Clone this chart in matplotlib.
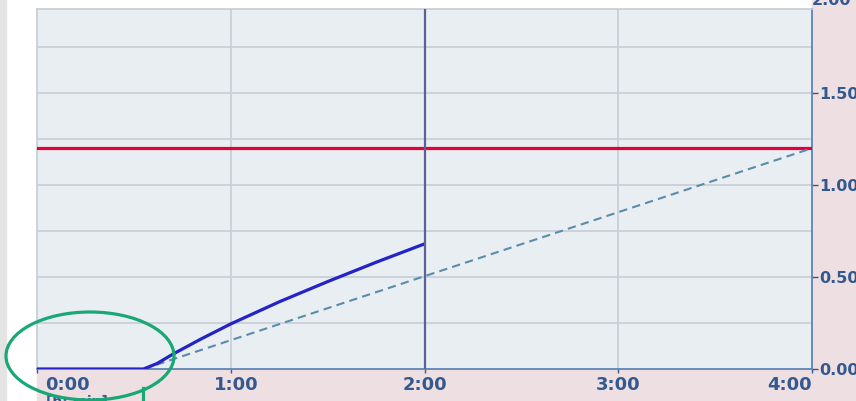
import matplotlib
matplotlib.use("Agg")
import matplotlib.pyplot as plt
from matplotlib.patches import Ellipse, Rectangle
from matplotlib.lines import Line2D
from matplotlib.transforms import ScaledTranslation

# ---- data ----
measured_t = [0.0, 0.55, 0.62, 0.70, 0.85, 1.0, 1.25, 1.5, 1.75, 2.0]
measured_v = [0.0, 0.0, 0.03, 0.08, 0.165, 0.245, 0.365, 0.475, 0.58, 0.68]
forecast_t = [0.55, 4.0]
forecast_v = [0.0, 1.2]
limit_value = 1.2
now_t = 2.0
x_ticks = [0, 1, 2, 3, 4]
x_labels = ["0:00", "1:00", "2:00", "3:00", "4:00"]
y_ticks = [0.0, 0.5, 1.0, 1.5]
y_labels = ["0.00", "0.50", "1.00", "1.50"]
y_top_label = "2.00"
unit_label = "[h: min]"

W, H = 856, 401
fig = plt.figure(figsize=(W / 100, H / 100), dpi=100)
fig.patch.set_facecolor("white")

pink = "#eedfe2"
lab_col = "#33598f"
# background regions
fig.add_artist(Rectangle((0, 0), 6 / W, 1, transform=fig.transFigure, color="#e4e4e4", zorder=0))
fig.add_artist(Rectangle((812 / W, 0), 1, 1, transform=fig.transFigure, color=pink, zorder=0))
fig.add_artist(Rectangle((37 / W, 0), 1, (H - 369) / H, transform=fig.transFigure, color=pink, zorder=0))

ax = fig.add_axes([37 / W, (H - 369) / H, 775 / W, 360 / H])
ax.set_facecolor("#e9eef2")
ax.set_xlim(0, 4)
ax.set_ylim(0, 360 / 184)

# grid
for yv in [0.25, 0.5, 0.75, 1.0, 1.25, 1.5, 1.75]:
    ax.axhline(yv, color="#c8d0d8", lw=1.3, zorder=1)
for xv in [1, 3]:
    ax.axvline(xv, color="#c8d0d8", lw=1.3, zorder=1)

ax.axhline(limit_value, color="#e5003c", lw=2.3, zorder=3)
ax.plot(forecast_t, forecast_v, color="#5a8daa", lw=1.5, ls=(0, (4, 2.5)), zorder=3)
ax.plot(measured_t, measured_v, color="#2323c6", lw=2.3, zorder=4, solid_capstyle="butt")
ax.axvline(now_t, color="#5d6094", lw=1.6, zorder=5)

for s in ["left", "top"]:
    ax.spines[s].set_color("#c4ccd4")
    ax.spines[s].set_linewidth(1.2)
ax.spines["bottom"].set_color("#5f84b3")
ax.spines["right"].set_color("#5f84b3")
ax.spines["bottom"].set_linewidth(1.3)
ax.spines["right"].set_linewidth(1.3)

ax.yaxis.tick_right()
ax.set_yticks(y_ticks)
ax.set_yticklabels(y_labels)
ax.set_xticks(x_ticks)
ax.set_xticklabels(x_labels)
ax.tick_params(axis="y", colors=lab_col, length=4, width=1, pad=1, labelsize=11.5)
ax.tick_params(axis="x", colors=lab_col, length=3, width=1, pad=2, labelsize=13)
for t in ax.get_yticklabels() + ax.get_xticklabels():
    t.set_fontweight("bold")
    t.set_color(lab_col)
xl = ax.get_xticklabels()
xl[0].set_ha("left")
xl[0].set_transform(xl[0].get_transform() + ScaledTranslation(8 / 100, 0, fig.dpi_scale_trans))
xl[1].set_transform(xl[1].get_transform() + ScaledTranslation(5 / 100, 0, fig.dpi_scale_trans))
xl[-1].set_ha("right")

ax.text(1.0, 2.005, y_top_label, transform=ax.get_yaxis_transform(), ha="left", va="center",
        color=lab_col, fontsize=11.5, fontweight="bold", clip_on=False)
ax.text(10 / W, -26 / 360, unit_label, transform=ax.transAxes, ha="left", va="top",
        color=lab_col, fontsize=10, fontweight="bold", clip_on=False)

# annotation ellipse
fig.add_artist(Ellipse((90 / W, 1 - 356 / H), 168 / W, 88 / H, transform=fig.transFigure,
                       fill=False, edgecolor="#19a874", lw=2.3, zorder=10))
fig.add_artist(Line2D([143 / W, 143 / W], [0, (H - 388) / H], transform=fig.transFigure,
                      color="#19a874", lw=2.3, zorder=10))

fig.savefig("out.png", dpi=100)
